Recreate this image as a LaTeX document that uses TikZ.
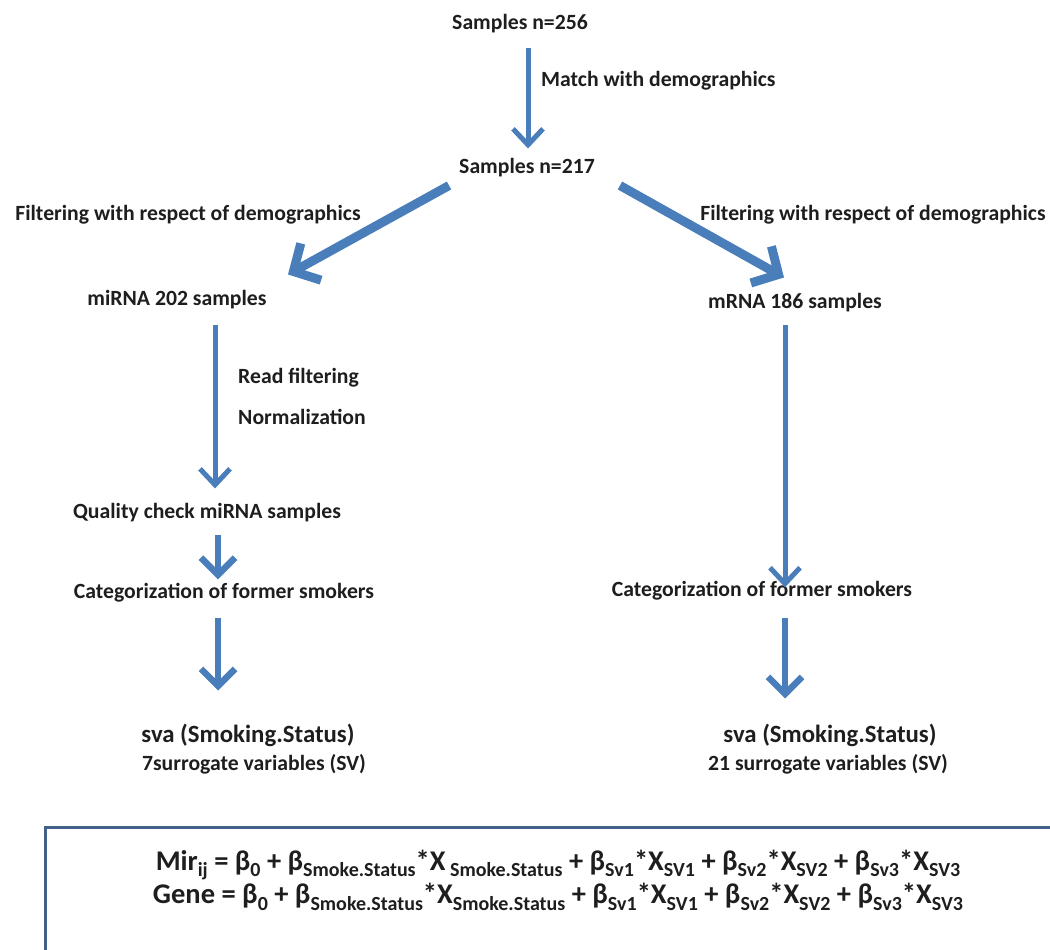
\documentclass[tikz,border=0pt]{standalone}
\usepackage{fontspec}
\setmainfont{Carlito}
\usetikzlibrary{arrows.meta}
\definecolor{arrblue}{RGB}{74,126,187}
\definecolor{boxblue}{RGB}{66,96,136}
\definecolor{txt}{RGB}{30,30,30}
\newcommand{\lowsub}[1]{\raisebox{-0.5ex}{\fontsize{20}{20}\selectfont #1}}
\begin{document}
\begin{tikzpicture}[x=1pt,y=-1pt,
  lbl/.style={font=\fontsize{21.7}{24}\selectfont\bfseries, inner sep=0pt, text=txt},
  big/.style={font=\fontsize{24.8}{28}\selectfont\bfseries, inner sep=0pt, text=txt},
  frm/.style={font=\fontsize{28.5}{30}\selectfont\bfseries, inner sep=0pt, text=txt},
  thinarr/.style={draw=arrblue, line width=5pt, -{Straight Barb[length=16pt,width=30pt]}},
  midarr/.style={draw=arrblue, line width=6.5pt, -{Straight Barb[length=17pt,width=34pt]}},
  thickarr/.style={draw=arrblue, line width=9pt, -{Straight Barb[length=20pt,width=42pt]}},
  fbox/.style={draw=boxblue, line width=3pt, fill=white}]
\useasboundingbox (0,0) rectangle (1050,950);
\clip (0,0) rectangle (1050,950);
\fill[white] (0,0) rectangle (1050,950);

% nodes
\node[lbl] (n256) at (520,24) {Samples n=256};
\node[lbl, anchor=west] (match) at (541,81) {Match with demographics};
\node[lbl] (n217) at (527,168) {Samples n=217};
\node[lbl] (filtL) at (188,215) {Filtering with respect of demographics};
\node[lbl] (filtR) at (873,215) {Filtering with respect of demographics};
\node[lbl] (mirna) at (177,300) {miRNA 202 samples};
\node[lbl] (mrna) at (795,303) {mRNA 186 samples};
\node[lbl, anchor=west] (readf) at (238,378) {Read filtering};
\node[lbl, anchor=west] (norm) at (238,417) {Normalization};
\node[lbl] (qc) at (207,513) {Quality check miRNA samples};
\node[lbl] (catL) at (224,593) {Categorization of former smokers};
\node[lbl] (catR) at (762,591) {Categorization of former smokers};
\node[big] (svaL) at (248,735) {sva (Smoking.Status)};
\node[lbl] (surL) at (254,764) {7surrogate variables (SV)};
\node[big] (svaR) at (830,735) {sva (Smoking.Status)};
\node[lbl] (surR) at (828,764) {21 surrogate variables (SV)};

% arrows
\draw[thinarr] ([xshift=8pt,yshift=-14pt]n256.south) -- ([xshift=1pt,yshift=10pt]n217.north);
\draw[thickarr] ([xshift=-10pt,yshift=-8pt]n217.south west) -- ([xshift=111pt,yshift=16pt]mirna.north);
\draw[thickarr] ([xshift=25pt,yshift=-8pt]n217.south east) -- ([xshift=-11pt,yshift=16pt]mrna.north);
\draw[thinarr] ([xshift=38pt,yshift=-15pt]mirna.south) -- ([xshift=8pt,yshift=15pt]qc.north);
\draw[midarr] ([xshift=11pt,yshift=-12pt]qc.south) -- ([xshift=-6pt,yshift=4pt]catL.north);
\draw[midarr] ([xshift=-6pt,yshift=-15pt]catL.south) -- ([xshift=-30pt,yshift=33pt]svaL.north);
\draw[thinarr] ([xshift=-10pt,yshift=-12pt]mrna.south) -- ([xshift=23pt,yshift=-6pt]catR.north);
\draw[midarr] ([xshift=23pt,yshift=-17pt]catR.south) -- ([xshift=-45pt,yshift=25pt]svaR.north);

% formula box
\draw[fbox] (45,827) rectangle (1080,980);
\node[frm] (mir) at (558,865) {Mir\lowsub{ij} = β\lowsub{0} + β\lowsub{Smoke.Status}*X\lowsub{\ Smoke.Status} + β\lowsub{Sv1}*X\lowsub{SV1} + β\lowsub{Sv2}*X\lowsub{SV2} + β\lowsub{Sv3}*X\lowsub{SV3}};
\node[frm] (gene) at (558,897) {Gene = β\lowsub{0} + β\lowsub{Smoke.Status}*X\lowsub{Smoke.Status} + β\lowsub{Sv1}*X\lowsub{SV1} + β\lowsub{Sv2}*X\lowsub{SV2} + β\lowsub{Sv3}*X\lowsub{SV3}};
\end{tikzpicture}
\end{document}
